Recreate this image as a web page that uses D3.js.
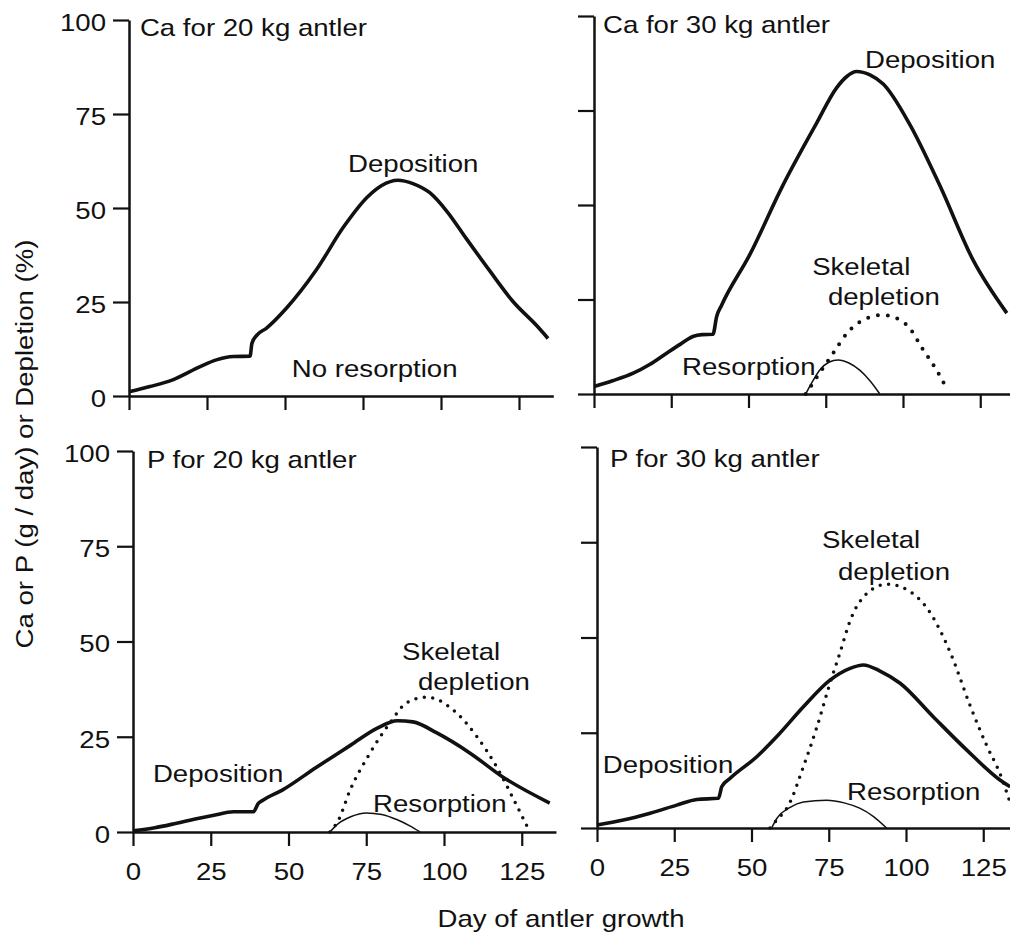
<!DOCTYPE html>
<html>
<head>
<meta charset="utf-8">
<script src="https://cdn.jsdelivr.net/npm/d3@7.9.0/dist/d3.min.js"></script>
<style>
  html, body { margin: 0; padding: 0; background: #fff; }
  svg { display: block; }
  text { font-family: "Liberation Sans", Arial, sans-serif; font-size: 24px; fill: #111; }
</style>
</head>
<body>
<svg id="chart" width="1010" height="934"></svg>
<script>
// values: [day, g/day or %]
const caDeposition20 = [[0,1.1],[6.7,2.5],[14,4.3],[22.8,7.8],[28,9.6],[33.5,10.5],[38.8,10.6],[39.4,14],[41,16.2],[44,18],[50.5,23.4],[60,33.5],[68.8,45],[76.5,53],[81,56],[86.2,57.4],[91,56.5],[96.5,54],[102,49],[108,42],[115.7,33.2],[123,25.2],[130.8,18.6],[134.3,15.3]];

const caDeposition30 = [[0,2],[6,3.5],[12.7,5.5],[18,7.8],[23.5,10.8],[28,13.2],[32,15.2],[35,15.7],[38.5,15.8],[39.7,20.5],[41.3,23.5],[50.5,37],[61,55],[72,71.6],[78.5,81],[81.8,84],[85,85.3],[89.3,84.4],[93.6,82],[102,71.6],[112,55],[122.7,35.4],[133.6,21.4]];
const caResorption30 = [[68.5,0],[70.5,3],[73,6.3],[76,8.4],[79,9],[82.5,8.2],[86,6.3],[89.5,3.3],[92.5,0]];
const caDepletion30 = [[68.5,0],[71.5,3.7],[77.4,10.8],[81.8,16],[88.2,20],[93.6,20.9],[101.2,18.3],[106.6,11.6],[110.9,6.3],[114.1,1.5]];

const pDeposition20 = [[0,0.3],[7,1.1],[14,2.3],[20,3.4],[26,4.4],[32.3,5.3],[38.7,5.3],[40.3,7.5],[41.9,8.4],[48,11],[59,17],[70,22.8],[78.4,27.2],[85,29.2],[90,28.9],[97.7,26],[108.4,20.7],[119,14.4],[134,7.6]];
const pResorption20 = [[63.3,0],[66,2.2],[70,4],[75,5],[80,4.6],[85,3.2],[89,1.6],[92.3,0]];
const pDepletion20 = [[63.3,0],[66,3],[69.8,11],[76.2,20.7],[82.6,28.6],[88,33.9],[94.5,35.4],[103,32],[110.6,25],[117,17],[122,9.2],[126.7,1.5]];

const pDeposition30 = [[0,0.8],[8.5,2.1],[17.2,3.9],[25.8,6],[32.3,7.5],[39.3,7.8],[40.4,10.9],[43,13],[51.7,18.7],[58.2,24],[66.8,31.8],[75.4,38.8],[81.9,41.9],[86.2,42.8],[91.6,41.2],[98.1,38],[108.8,29.2],[119.6,20.5],[130.4,12.6],[133.7,10.8]];
const pResorption30 = [[56.5,0],[58.2,2.5],[62.5,5.4],[66.8,6.8],[74.3,7.3],[80,6.6],[85,5.2],[89.5,3],[93.7,0]];
const pDepletion30 = [[56,0],[58.2,2.1],[62,6],[66.8,16.1],[71.2,26.6],[75.4,38],[78.6,45.9],[82,54.6],[87.4,61.6],[93.9,64],[100.4,62.5],[107.9,56.4],[114.4,45.9],[120.9,31.8],[126.3,21.3],[130.4,14.3],[133.7,6.6]];

const yTicks = [0, 25, 50, 75, 100];
const xTicks = [0, 25, 50, 75, 100, 125];
const panelTitles = ['Ca for 20 kg antler', 'Ca for 30 kg antler', 'P for 20 kg antler', 'P for 30 kg antler'];

const SX = 1.15; // the figure's lettering is wider than Arial

const svg = d3.select('#chart');

function note(sel, x, y, s, anchor) {
  return sel.append('text')
    .attr('transform', `translate(${x},${y}) scale(${SX},1)`)
    .attr('text-anchor', anchor || 'start')
    .text(s);
}

const panels = [
  { title: panelTitles[0], left: 129, kx: 3.12, top: 20, bottom: 396, yLabels: true, xLabels: false, dot: 0,
    dep: caDeposition20, res: null, depl: null,
    notes: [['Deposition', 70.2, 59.6], ['No resorption', 52.2, 5.1]], titleAt: [3.5, 95.7] },
  { title: panelTitles[1], left: 594, kx: 3.09, top: 16, bottom: 394, yLabels: false, xLabels: false, dot: 10,
    dep: caDeposition30, res: caResorption30, depl: caDepletion30,
    notes: [['Deposition', 87.7, 86.2], ['Skeletal', 70.6, 31.5], ['depletion', 75.7, 23.5], ['Resorption', 28.5, 5.0]], titleAt: [2.9, 95.5] },
  { title: panelTitles[2], left: 133, kx: 3.11, top: 451, bottom: 832, yLabels: true, xLabels: true, dot: 8.5,
    dep: pDeposition20, res: pResorption20, depl: pDepletion20,
    notes: [['Deposition', 6.4, 13.1], ['Skeletal', 86.5, 45.1], ['depletion', 91.6, 37.3], ['Resorption', 77.2, 5.2]], titleAt: [4.5, 95.5] },
  { title: panelTitles[3], left: 597, kx: 3.09, top: 447, bottom: 828, yLabels: false, xLabels: true, dot: 8.5,
    dep: pDeposition30, res: pResorption30, depl: pDepletion30,
    notes: [['Skeletal', 72.8, 73.5], ['depletion', 78, 65.1], ['Deposition', 1.9, 14.4], ['Resorption', 80.9, 7.3]], titleAt: [4.2, 94.8] }
];

panels.forEach(p => {
  const x = d3.scaleLinear().domain([0, 136]).range([p.left, p.left + 136 * p.kx]);
  const y = d3.scaleLinear().domain([0, 100]).range([p.bottom, p.top]);
  const g = svg.append('g');

  const line = d3.line()
    .x(d => x(d[0]))
    .y(d => y(d[1]))
    .curve(d3.curveMonotoneX);

  // axes
  const ya = g.append('g')
    .attr('transform', `translate(${p.left},0)`)
    .call(d3.axisLeft(y).tickValues(yTicks).tickSize(16).tickSizeOuter(0)
      .tickFormat(p.yLabels ? d3.format('d') : ''));
  ya.selectAll('.tick text')
    .attr('x', -23 / SX)
    .attr('dy', '0.43em')
    .attr('transform', `scale(${SX},1)`);

  const xa = g.append('g')
    .attr('transform', `translate(0,${p.bottom})`)
    .call(d3.axisBottom(x).tickValues(xTicks).tickSize(14).tickPadding(17).tickSizeOuter(0)
      .tickFormat(p.xLabels ? d3.format('d') : ''));
  xa.selectAll('.tick text').attr('transform', `scale(${SX},1)`);

  [ya, xa].forEach(a => {
    a.select('.domain').attr('stroke', '#111').attr('stroke-width', 2.5);
    a.selectAll('.tick line').attr('stroke', '#111').attr('stroke-width', 2.2);
    a.selectAll('.tick text').style('font-size', '24px').attr('fill', '#111')
      .style('font-family', '"Liberation Sans", Arial, sans-serif');
  });

  if (p.depl) {
    g.append('path')
      .datum(p.depl)
      .attr('d', line)
      .attr('fill', 'none')
      .attr('stroke', '#111')
      .attr('stroke-width', p.dot > 9 ? 4 : 3.5)
      .attr('stroke-linecap', 'round')
      .attr('stroke-dasharray', `0 ${p.dot}`);
  }
  if (p.res) {
    g.append('path')
      .datum(p.res)
      .attr('d', line)
      .attr('fill', 'none')
      .attr('stroke', '#111')
      .attr('stroke-width', 1.5);
  }
  g.append('path')
    .datum(p.dep)
    .attr('d', line)
    .attr('fill', 'none')
    .attr('stroke', '#111')
    .attr('stroke-width', 3.6)
    .attr('stroke-linejoin', 'round');

  note(g, x(p.titleAt[0]), y(p.titleAt[1]), p.title);
  p.notes.forEach(n => note(g, x(n[1]), y(n[2]), n[0]));
});

// shared axis titles
note(svg, 561, 927, 'Day of antler growth', 'middle');
svg.append('text')
  .attr('transform', `translate(33,444) rotate(-90) scale(${SX},1)`)
  .attr('text-anchor', 'middle')
  .text('Ca or P (g / day) or Depletion (%)');
</script>
</body>
</html>
